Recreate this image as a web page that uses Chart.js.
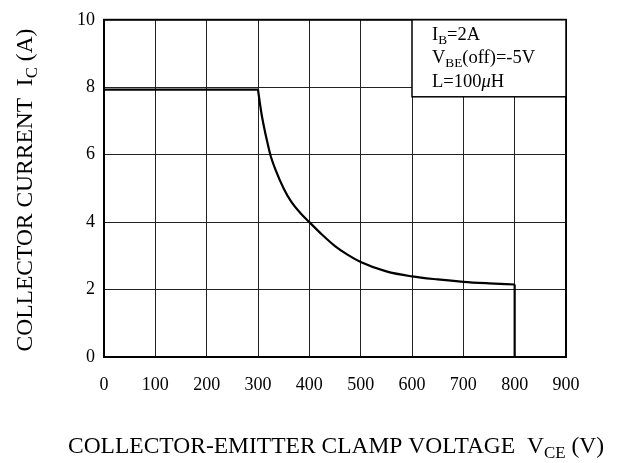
<!DOCTYPE html>
<html>
<head>
<meta charset="utf-8">
<script src="https://cdn.jsdelivr.net/npm/chart.js@4/dist/chart.umd.min.js"></script>
<style>
  html, body { margin: 0; padding: 0; background: #fff; }
  #wrap { width: 621px; height: 463px; position: relative; }
</style>
</head>
<body>
<div id="wrap"><canvas id="c" width="621" height="463"></canvas></div>
<script>
// clamp curve: VCE (V) vs IC (A)
const flatV  = [0, 300];
const flatI  = [7.93, 7.93];
const curveV = [300, 303, 307, 312, 318, 324, 335, 350, 365, 382, 400, 425, 450, 475, 500, 550, 600, 650, 700, 750, 800];
const curveI = [7.93, 7.6, 7.2, 6.8, 6.38, 6.0, 5.52, 5.0, 4.6, 4.28, 4.0, 3.625, 3.29, 3.03, 2.82, 2.54, 2.39, 2.3, 2.23, 2.185, 2.15];
const dropV  = [800, 800];
const dropI  = [2.15, 0];
const xTicks = [0, 100, 200, 300, 400, 500, 600, 700, 800, 900];
const yTicks = [0, 2, 4, 6, 8, 10];
const noteLines = [
    [{ t: 'I' }, { t: 'B', sub: true }, { t: '=2A' }],
    [{ t: 'V' }, { t: 'BE', sub: true }, { t: '(off)=-5V' }],
    [{ t: 'L=100' }, { t: 'μ', it: true }, { t: 'H' }]
];

const FONT = '"Liberation Serif", "Times New Roman", serif';

function drawRich(ctx, parts, x, y, size) {
    let cx = x;
    parts.forEach(p => {
        const s = p.sub ? size * 0.72 : size;
        ctx.font = (p.it ? 'italic ' : '') + s + 'px ' + FONT;
        ctx.fillText(p.t, cx, p.sub ? y + size * 0.22 : y);
        cx += ctx.measureText(p.t).width;
    });
    return cx - x;
}

function richWidth(ctx, parts, size) {
    let w = 0;
    parts.forEach(p => {
        const s = p.sub ? size * 0.72 : size;
        ctx.font = (p.it ? 'italic ' : '') + s + 'px ' + FONT;
        w += ctx.measureText(p.t).width;
    });
    return w;
}

const extras = {
    id: 'extras',
    afterDraw(chart) {
        const ctx = chart.ctx;
        const a = chart.chartArea;
        ctx.save();
        // frame
        ctx.strokeStyle = '#000';
        ctx.lineWidth = 2;
        ctx.strokeRect(a.left, a.top, a.right - a.left, a.bottom - a.top);

        // note box
        const bx = chart.scales.x.getPixelForValue(600);
        ctx.fillStyle = '#fff';
        ctx.fillRect(bx, a.top, a.right - bx, 77);
        ctx.lineWidth = 1.5;
        ctx.strokeRect(bx, a.top, a.right - bx, 77);
        ctx.fillStyle = '#000';
        ctx.textBaseline = 'alphabetic';
        ctx.textAlign = 'left';
        noteLines.forEach((ln, i) => drawRich(ctx, ln, bx + 20, a.top + 20 + i * 23.5, 18.5));

        // x title
        const xt = [{ t: 'COLLECTOR-EMITTER CLAMP VOLTAGE  V' }, { t: 'CE', sub: true }, { t: ' (V)' }];
        const xw = richWidth(ctx, xt, 23.5);
        drawRich(ctx, xt, 336 - xw / 2, 453, 23.5);

        // y title
        const yt = [{ t: 'COLLECTOR CURRENT  I' }, { t: 'C', sub: true }, { t: ' (A)' }];
        const yw = richWidth(ctx, yt, 23.5);
        ctx.translate(32, 190);
        ctx.rotate(-Math.PI / 2);
        drawRich(ctx, yt, -yw / 2, 0, 23.5);
        ctx.restore();
    }
};

const lineStyle = { showLine: true, borderColor: '#000', borderWidth: 2.2, pointRadius: 0, fill: false };
const pts = (xs, ys) => xs.map((v, i) => ({ x: v, y: ys[i] }));

new Chart(document.getElementById('c'), {
    type: 'scatter',
    data: {
        datasets: [
            { ...lineStyle, data: pts(flatV, flatI), tension: 0 },
            { ...lineStyle, data: pts(curveV, curveI), cubicInterpolationMode: 'monotone' },
            { ...lineStyle, data: pts(dropV, dropI), tension: 0 }
        ]
    },
    options: {
        responsive: false,
        animation: false,
        layout: { padding: { left: 0, top: 17, right: 55, bottom: 0 } },
        plugins: { legend: { display: false }, tooltip: { enabled: false } },
        scales: {
            x: {
                type: 'linear', min: 0, max: 900,
                afterFit: s => { s.height = 106; },
                afterBuildTicks: s => { s.ticks = xTicks.map(v => ({ value: v })); },
                grid: { color: '#222', lineWidth: 1, drawTicks: false },
                border: { display: false },
                ticks: { color: '#000', padding: 17, font: { family: FONT, size: 18 } }
            },
            y: {
                type: 'linear', min: 0, max: 10,
                afterFit: s => { s.width = 104; },
                afterBuildTicks: s => { s.ticks = yTicks.map(v => ({ value: v })); },
                grid: { color: '#222', lineWidth: 1, drawTicks: false },
                border: { display: false },
                ticks: { color: '#000', padding: 9, font: { family: FONT, size: 18 } }
            }
        }
    },
    plugins: [extras]
});
</script>
</body>
</html>
